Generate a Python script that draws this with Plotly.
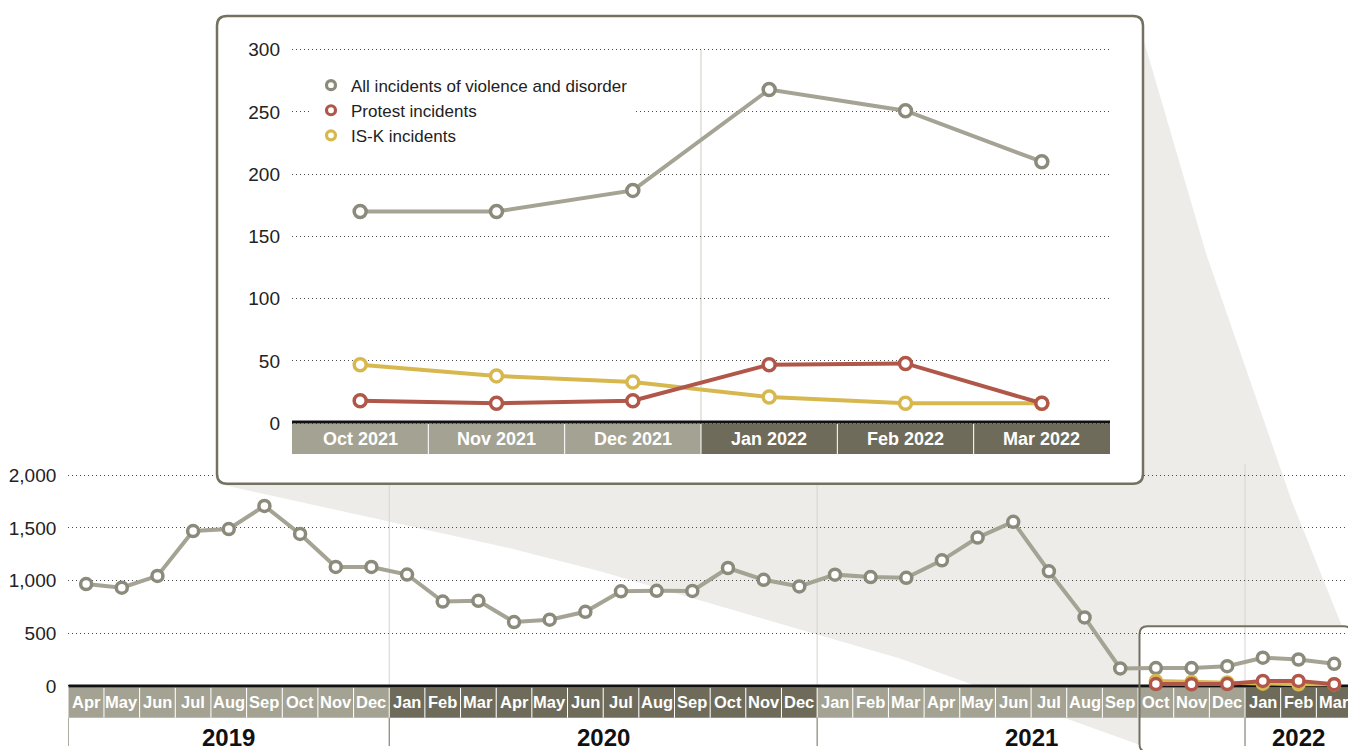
import plotly.graph_objects as go

W, H = 1348, 750

# ---- data ----
month_labels = ["Apr", "May", "Jun", "Jul", "Aug", "Sep", "Oct", "Nov", "Dec",
                "Jan", "Feb", "Mar", "Apr", "May", "Jun", "Jul", "Aug", "Sep", "Oct", "Nov", "Dec",
                "Jan", "Feb", "Mar", "Apr", "May", "Jun", "Jul", "Aug", "Sep", "Oct", "Nov", "Dec",
                "Jan", "Feb", "Mar"]
years = ["2019", "2020", "2021", "2022"]
months_per_year = [9, 12, 12, 3]
all_incidents = [968, 933, 1045, 1471, 1490, 1710, 1443, 1130, 1130,
                 1058, 801, 808, 607, 629, 704, 899, 903, 902, 1120, 1008, 945,
                 1057, 1034, 1027, 1193, 1409, 1559, 1089, 651, 166, 170, 170, 187,
                 268, 251, 210]

inset_labels = ["Oct 2021", "Nov 2021", "Dec 2021", "Jan 2022", "Feb 2022", "Mar 2022"]
inset_years = ["2021", "2021", "2021", "2022", "2022", "2022"]
inset_all = [170, 170, 187, 268, 251, 210]
inset_protest = [18, 16, 18, 47, 48, 16]
inset_isk = [47, 38, 33, 21, 16, 16]

main_ticks = [0, 500, 1000, 1500, 2000]
inset_ticks = [0, 50, 100, 150, 200, 250, 300]

series_names = ["All incidents of violence and disorder", "Protest incidents", "IS-K incidents"]

# ---- colours ----
GRAY_LINE = "#a4a394"
GRAY_RING = "#8b8a7b"
RED = "#b0574a"
YELLOW = "#d7b84f"
BAND_LIGHT = "#a4a393"
BAND_DARK = "#6e6b5a"
FRAME = "#747160"
SHADOW = "#edece8"
GRID = "#4a4a4a"
VLINE = "#d5d5cd"

SANS = "Liberation Sans, Arial, sans-serif"
TICK_FONT = dict(family=SANS, size=19, color="#222")

# ---- layout geometry (pixels -> axis units) ----
MAIN_LEFT, MAIN_GRID_RIGHT = 68.3, 1352.0
CELL = (MAIN_GRID_RIGHT - MAIN_LEFT) / len(month_labels)
MAIN_ZERO, MAIN_SCALE = 685.5, 212 / 2000
MAIN_TOP, MAIN_BOTTOM = 462, 750

IN_LEFT, IN_RIGHT = 292, 1110
IN_ZERO, IN_SCALE = 421, 376 / 300
IN_TOP, IN_BOTTOM = 40, 452


def xm(px):
    return -0.5 + (px - MAIN_LEFT) / CELL


def ym(py):
    return (MAIN_ZERO - py) / MAIN_SCALE


def yi(py):
    return (IN_ZERO - py) / IN_SCALE


def rounded_path(x0, y0, x1, y1, r, fx=lambda v: v, fy=lambda v: v):
    segs = [("M", [(x0 + r, y0)]),
            ("L", [(x1 - r, y0)]), ("Q", [(x1, y0), (x1, y0 + r)]),
            ("L", [(x1, y1 - r)]), ("Q", [(x1, y1), (x1 - r, y1)]),
            ("L", [(x0 + r, y1)]), ("Q", [(x0, y1), (x0, y1 - r)]),
            ("L", [(x0, y0 + r)]), ("Q", [(x0, y0), (x0 + r, y0)])]
    s = ""
    for cmd, pts in segs:
        s += cmd + " " + " ".join(f"{fx(a):.4f},{fy(b):.4f}" for a, b in pts) + " "
    return s + "Z"


def poly_path(pts, fx, fy):
    s = "M " + " L ".join(f"{fx(a):.5f},{fy(b):.5f}" for a, b in pts)
    return s + " Z"


n_main = len(month_labels)
x_main = list(range(n_main))
x_zoom = list(range(n_main - len(inset_labels), n_main))
x_in = list(range(len(inset_labels)))

# colour of each month cell (alternating by year)
band_colors = []
for k, n in enumerate(months_per_year):
    band_colors += [BAND_LIGHT if k % 2 == 0 else BAND_DARK] * n
year_start = [sum(months_per_year[:k]) for k in range(len(years))]

fig = go.Figure()


def line_trace(x, y, color, ring, size, xa, ya):
    return go.Scatter(x=x, y=y, mode="lines+markers", xaxis=xa, yaxis=ya,
                      line=dict(color=color, width=4),
                      marker=dict(symbol="circle", size=size, color="white",
                                  line=dict(color=ring, width=3.5)),
                      showlegend=False, hoverinfo="x+y")


# main chart
fig.add_trace(line_trace(x_main, all_incidents, GRAY_LINE, GRAY_RING, 11, "x", "y"))
fig.add_trace(line_trace(x_zoom, inset_isk, YELLOW, YELLOW, 11, "x", "y"))
fig.add_trace(line_trace(x_zoom, inset_protest, RED, RED, 11, "x", "y"))

# pixel overlay subplot (holds the inset frame, drawn above the main chart)
fig.add_trace(go.Scatter(x=[None], y=[None], xaxis="x2", yaxis="y2",
                         showlegend=False, hoverinfo="skip"))

# inset chart
fig.add_trace(line_trace(x_in, inset_all, GRAY_LINE, GRAY_RING, 12, "x3", "y3"))
fig.add_trace(line_trace(x_in, inset_isk, YELLOW, YELLOW, 12, "x3", "y3"))
fig.add_trace(line_trace(x_in, inset_protest, RED, RED, 12, "x3", "y3"))

# legend entries (markers only)
for name, ring in zip(series_names, [GRAY_RING, RED, YELLOW]):
    fig.add_trace(go.Scatter(x=[None], y=[None], mode="markers", name=name,
                             xaxis="x3", yaxis="y3",
                             marker=dict(symbol="circle", size=9, color="white",
                                         line=dict(color=ring, width=3.2))))

shapes = []

# zoom "shadow" connecting inset with the zoomed region
shadow_pts = [(218, 482), (510, 547), (600, 570), (900, 658), (1140, 745),
              (1140, 800), (1410, 800), (1345, 633), (1292, 500), (1206, 250), (1143, 33)]
shapes.append(dict(type="path", xref="paper", yref="paper", layer="below",
                   path=poly_path(shadow_pts, lambda v: v / W, lambda v: 1 - v / H),
                   fillcolor=SHADOW, line=dict(width=0)))

# small box around the zoomed months (fill)
box_small = (1139.5, 625.5, 1352, 752, 8)
shapes.append(dict(type="path", xref="x", yref="y", layer="below",
                   path=rounded_path(*box_small, fx=xm, fy=ym),
                   fillcolor="white", line=dict(width=0)))

# year separators inside plot area
for k in range(1, len(years)):
    xb = year_start[k] - 0.5
    shapes.append(dict(type="line", xref="x", yref="y", layer="below",
                       x0=xb, x1=xb, y0=ym(684), y1=ym(MAIN_TOP),
                       line=dict(color=VLINE, width=1)))

# month band
for i, c in enumerate(band_colors):
    shapes.append(dict(type="rect", xref="x", yref="y", layer="between",
                       x0=i - 0.5, x1=i + 0.5, y0=ym(687), y1=ym(717.5),
                       fillcolor=c, line=dict(width=0)))
for i in range(1, n_main):
    shapes.append(dict(type="line", xref="x", yref="y", layer="between",
                       x0=i - 0.5, x1=i - 0.5, y0=ym(687), y1=ym(717.5),
                       line=dict(color="white", width=1)))
shapes.append(dict(type="line", xref="x", yref="y", layer="between",
                   x0=-0.5, x1=n_main - 0.5, y0=0, y1=0,
                   line=dict(color="#111", width=3)))
for k in range(len(years)):
    xb = year_start[k] - 0.5
    shapes.append(dict(type="line", xref="x", yref="y", layer="between",
                       x0=xb, x1=xb, y0=ym(717.5), y1=ym(746),
                       line=dict(color=BAND_DARK, width=1)))
shapes.append(dict(type="path", xref="x", yref="y", layer="between",
                   path=rounded_path(*box_small, fx=xm, fy=ym),
                   fillcolor="rgba(0,0,0,0)", line=dict(color=FRAME, width=2)))

# inset frame (pixel overlay subplot)
shapes.append(dict(type="path", xref="x2", yref="y2", layer="below",
                   path=rounded_path(217, 11, 1143, 482, 10),
                   fillcolor="white", line=dict(color=FRAME, width=2.5)))

# inset decorations
shapes.append(dict(type="line", xref="x3", yref="y3", layer="below",
                   x0=2.5, x1=2.5, y0=0, y1=inset_ticks[-1],
                   line=dict(color=VLINE, width=1.2)))
for i, yr in enumerate(inset_years):
    shapes.append(dict(type="rect", xref="x3", yref="y3", layer="between",
                       x0=i - 0.5, x1=i + 0.5, y0=yi(421.5), y1=yi(IN_BOTTOM),
                       fillcolor=BAND_LIGHT if yr == "2021" else BAND_DARK, line=dict(width=0)))
for i in range(1, len(inset_labels)):
    shapes.append(dict(type="line", xref="x3", yref="y3", layer="between",
                       x0=i - 0.5, x1=i - 0.5, y0=yi(421.5), y1=yi(IN_BOTTOM),
                       line=dict(color="white", width=1)))
shapes.append(dict(type="line", xref="x3", yref="y3", layer="between",
                   x0=-0.5, x1=len(inset_labels) - 0.5, y0=yi(419.8), y1=yi(419.8),
                   line=dict(color="#111", width=3)))

annotations = []
for i, lab in enumerate(month_labels):
    annotations.append(dict(x=i, y=ym(702), xref="x", yref="y", text=f"<b>{lab}</b>",
                            showarrow=False, font=dict(family=SANS, size=16.5, color="white")))
for k, yr in enumerate(years):
    xc = year_start[k] + (months_per_year[k] - 1) / 2
    annotations.append(dict(x=xc, y=ym(737), xref="x", yref="y", text=f"<b>{yr}</b>",
                            showarrow=False, font=dict(family=SANS, size=24, color="#111")))
for i, lab in enumerate(inset_labels):
    annotations.append(dict(x=i, y=yi(437), xref="x3", yref="y3", text=f"<b>{lab}</b>",
                            showarrow=False, font=dict(family=SANS, size=18, color="white")))

grid_style = dict(showgrid=True, gridcolor=GRID, gridwidth=1, griddash="1px,3px",
                  zeroline=False, showline=False, ticks="", tickfont=TICK_FONT)

fig.update_layout(
    width=W, height=H, autosize=False,
    margin=dict(l=0, r=0, t=0, b=0),
    paper_bgcolor="white", plot_bgcolor="rgba(0,0,0,0)",
    showlegend=True,
    legend=dict(x=311 / W, y=1 - 63 / H, xanchor="left", yanchor="top",
                bgcolor="white", borderwidth=0, itemwidth=30,
                font=dict(family=SANS, size=17, color="#222")),
    xaxis=dict(domain=[MAIN_LEFT / W, 1], range=[-0.5, xm(W)], visible=False, anchor="y"),
    yaxis=dict(domain=[0, 1 - MAIN_TOP / H], range=[ym(MAIN_BOTTOM), ym(MAIN_TOP)],
               tickvals=main_ticks, tickformat=",", ticklabelstandoff=11, anchor="x",
               **grid_style),
    xaxis2=dict(domain=[0, 1], range=[0, W], visible=False, anchor="y2"),
    yaxis2=dict(domain=[0, 1], range=[H, 0], visible=False, anchor="x2"),
    xaxis3=dict(domain=[IN_LEFT / W, IN_RIGHT / W], range=[-0.5, len(inset_labels) - 0.5],
                visible=False, anchor="y3"),
    yaxis3=dict(domain=[1 - IN_BOTTOM / H, 1 - IN_TOP / H], range=[yi(IN_BOTTOM), yi(IN_TOP)],
                tickvals=inset_ticks, ticklabelstandoff=11, anchor="x3", **grid_style),
    shapes=shapes,
    annotations=annotations,
)

# drop the browser's default page margin so the figure sits at the top-left corner
fig.write_html("out.html", config={"displayModeBar": False},
               post_script="document.body.style.margin='0px';")
